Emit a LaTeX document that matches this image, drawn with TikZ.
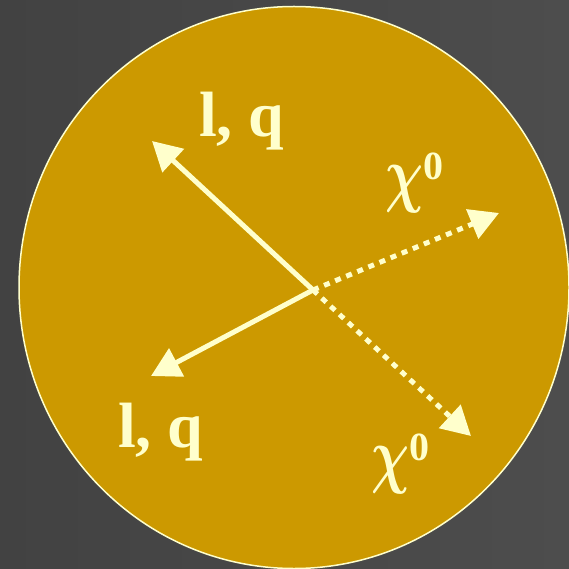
\documentclass[tikz,border=0pt]{standalone}
\usepackage{amsmath}
\usepackage{fontspec}
\setmainfont{Liberation Serif}
\usetikzlibrary{arrows.meta}
\definecolor{bgA}{HTML}{424242}
\definecolor{bgB}{HTML}{4D4D4D}
\definecolor{gold}{HTML}{CC9900}
\definecolor{cream}{HTML}{FFFFCC}
\tikzset{
  lbl/.style={inner sep=0pt, text=cream, font=\bfseries\fontsize{64}{64}\selectfont},
  solidarrow/.style={draw=cream, line width=5pt, -{Triangle[length=29pt,width=31pt]}},
  dotarrow/.style={draw=cream, line width=5pt, dash pattern=on 6pt off 6pt, -{Triangle[length=29pt,width=31pt]}},
}
\newcommand{\supzero}[1]{\raisebox{#1}{\fontsize{40}{40}\selectfont 0}}
\newcommand{\chiglyph}{\scalebox{5.3}[7.4]{\fontsize{10}{10}\selectfont$\boldsymbol{\chi}$}}
\begin{document}
\begin{tikzpicture}[x=1pt,y=-1pt]
  \useasboundingbox (0,0) rectangle (569,569);
  \shade[left color=bgA, right color=bgB] (0,0) rectangle (569,569);
  \draw[fill=gold, draw=cream, line width=1.5pt] (294,287.5) ellipse [x radius=275, y radius=281];
  \coordinate (v) at (313,290);
  \coordinate (ul) at (152,141);
  \coordinate (ll) at (151,376);
  \coordinate (ur) at (499,213);
  \coordinate (lr) at (471,436);
  \draw[solidarrow] (v) -- (ul);
  \draw[solidarrow] (v) -- (ll);
  \draw[dotarrow] (v) -- (ur);
  \draw[dotarrow] (v) -- (lr);
  \node[lbl, anchor=base west] (t1) at (199,137) {l, q};
  \node[lbl, anchor=base west] (t2) at (118,447) {l, q};
  \node[lbl, anchor=base west] (c1) at (385,199) {\chiglyph\supzero{20pt}};
  \node[lbl, anchor=base west] (c2) at (371,479) {\chiglyph\supzero{19pt}};
\end{tikzpicture}
\end{document}
